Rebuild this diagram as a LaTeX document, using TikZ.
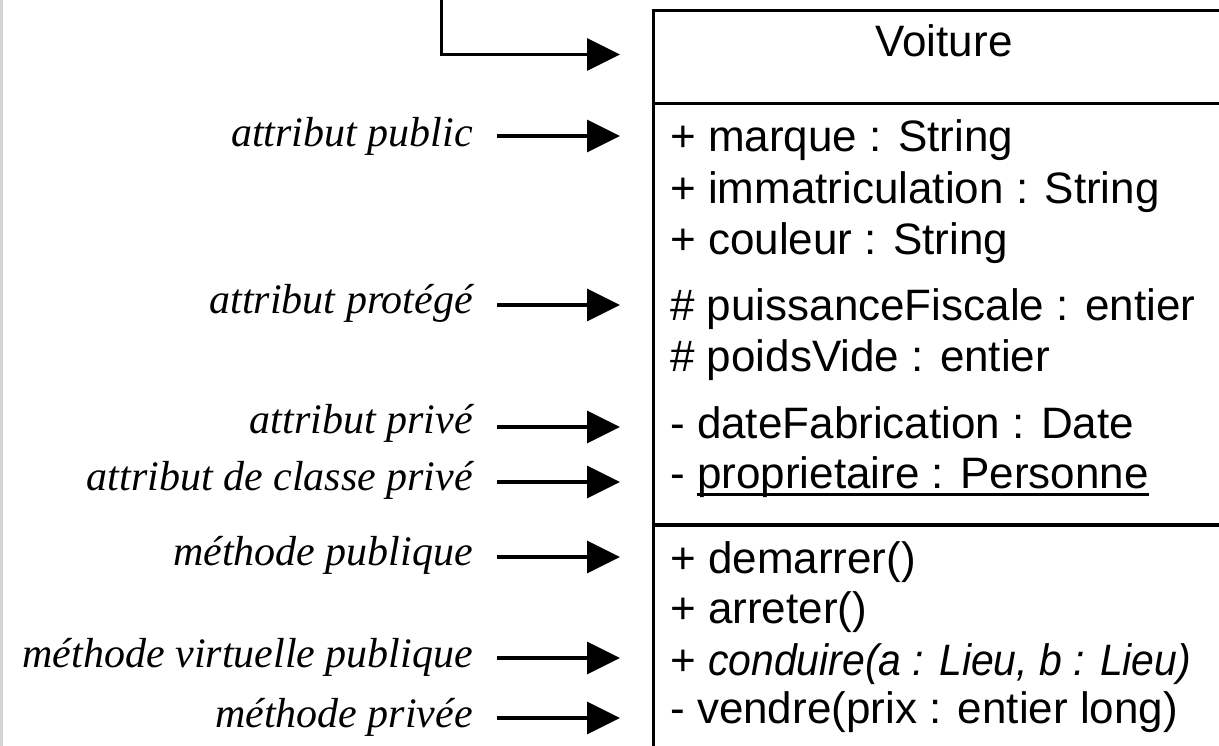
\documentclass[tikz,border=0pt]{standalone}
\usepackage{fontspec}
\setmainfont{Liberation Serif}
\setsansfont{Liberation Sans}
\usetikzlibrary{arrows.meta}

% underline with a rule sized for large text
\newcommand\ulbig[1]{\setbox0\hbox{#1}\rlap{\rule[-8pt]{\wd0}{3pt}}\box0}

\begin{document}
\begin{tikzpicture}[x=1pt,y=-1pt,
  role/.style={anchor=base east, inner sep=0pt, font=\fontsize{42}{50}\selectfont\itshape},
  member/.style={anchor=base west, inner sep=0pt, font=\fontsize{44}{52}\selectfont\sffamily},
  pointer/.style={line width=3.2pt, -{Triangle[length=33pt,width=32pt]}},
  frame/.style={line width=3.6pt}]
\useasboundingbox (0,0) rectangle (1219,746);
\clip (0,0) rectangle (1219,746);
\fill[white] (0,0) rectangle (1219,746);
\draw[line width=2.6pt, color={rgb,255:red,212;green,212;blue,212}] (1.3,-5) -- (1.3,760);

% class box (runs past the right and bottom edges)
\coordinate (boxnw) at (653.5,10.5);
\draw[frame] (1250,10.5) -- (boxnw) -- (653.5,770);
\draw[frame] (653.5,103.5) -- (1250,103.5);
\draw[frame] (653.5,525) -- (1250,525);

% class name
\node[member, anchor=base] (name) at (944,57) {Voiture};

% attributes
\node[member] (m1) at (670,152) {+ marque : String};
\node[member] (m2) at (670,204) {+ immatriculation : String};
\node[member] (m3) at (670,255) {+ couleur : String};
\node[member] (m4) at (670,320) {\# puissanceFiscale : entier};
\node[member] (m5) at (670,371) {\# poidsVide : entier};
\node[member] (m6) at (670,438) {- dateFabrication : Date};
\node[member] (m7) at (670,488) {- \ulbig{proprietaire : Personne}};

% operations
\node[member] (o1) at (670,573) {+ demarrer()};
\node[member] (o2) at (670,623) {+ arreter()};
\node[member] (o3) at (670,675) {+ \scalebox{0.93}[1]{\itshape conduire(a : Lieu, b : Lieu)}};
\node[member] (o4) at (670,723) {- vendre(prix : entier long)};

% inheritance link from above
\coordinate (parent) at (441.5,-10);
\coordinate (ptip) at (620,54.5);
\draw[pointer] (parent) |- (ptip);

% annotations with their pointers
\foreach \id/\txt/\base/\ay in {
  a/attribut public/147/136,
  b/attribut protégé/313/305,
  c/attribut privé/433/427,
  d/attribut de classe privé/490/482,
  e/méthode publique/565/557,
  f/méthode virtuelle publique/667/658,
  g/méthode privée/727/718} {
  \node[role] (l\id) at (473,\base) {\txt};
  \coordinate (s\id) at (497,\ay);
  \coordinate (t\id) at (620,\ay);
  \draw[pointer] (s\id) -- (t\id);
}
\end{tikzpicture}
\end{document}
